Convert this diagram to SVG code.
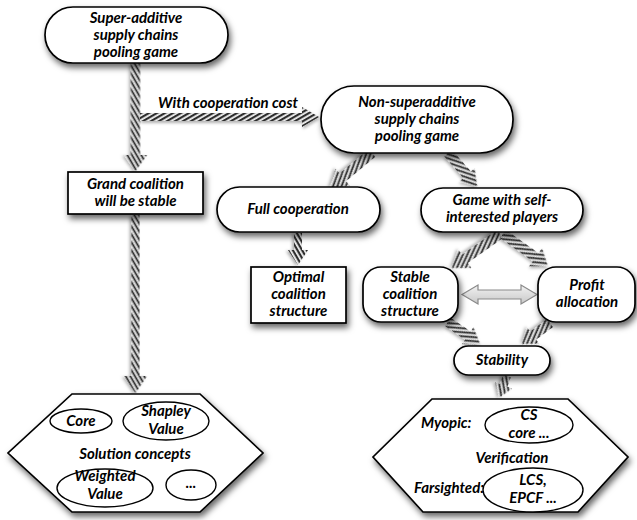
<svg xmlns="http://www.w3.org/2000/svg" width="637" height="520" viewBox="0 0 637 520">
<defs>
<style>
.n{fill:#fff;stroke:#000;stroke-width:1.7;filter:url(#sh)}
.e{fill:#fff;stroke:#000;stroke-width:1.4}
.t{font-family:Lato,"Open Sans",sans-serif;font-weight:bold;font-style:italic;font-size:15px;fill:#000;text-anchor:middle}
.tl{text-anchor:start}
.ar{fill:url(#hatch);filter:url(#ash)}
</style>
<filter id="sh" x="-20%" y="-20%" width="150%" height="160%">
<feDropShadow dx="2" dy="4" stdDeviation="3" flood-color="#000" flood-opacity="0.6"/>
</filter>
<filter id="ash" x="-30%" y="-60%" width="160%" height="220%">
<feDropShadow dx="1" dy="2" stdDeviation="1.5" flood-color="#000" flood-opacity="0.3"/>
</filter>
<pattern id="hatch" width="4" height="4" patternUnits="userSpaceOnUse" patternTransform="rotate(60)">
<rect width="4" height="4" fill="#f4f4f4"/>
<rect width="2.2" height="4" fill="#2e2e2e"/>
</pattern>
<linearGradient id="dbl" x1="0" y1="0" x2="0" y2="1">
<stop offset="0" stop-color="#f2f2f2"/>
<stop offset="1" stop-color="#c8c8c8"/>
</linearGradient>
</defs>
<rect width="637" height="520" fill="#fff"/>

<g id="connectors">
<polygon class="ar" transform="translate(135.5,63) rotate(90)" points="0,-4.5 92,-4.5 92,-11.5 108,0 92,11.5 92,4.5 0,4.5"/>
<polygon class="ar" transform="translate(140,117) rotate(0)" points="0,-4 162,-4 162,-10 179,0 162,10 162,4 0,4"/>
<text class="t" x="228" y="108">With cooperation cost</text>
<polygon class="ar" transform="translate(135.5,215) rotate(90)" points="0,-4 161,-4 161,-11.5 178,0 161,11.5 161,4 0,4"/>
<polygon class="ar" transform="translate(372,153) rotate(140.2)" points="0,-5 38,-5 38,-11 55,0 38,11 38,5 0,5"/>
<polygon class="ar" transform="translate(448,153) rotate(48.7)" points="0,-5 29,-5 29,-10 44,0 29,10 29,5 0,5"/>
<polygon class="ar" transform="translate(298,233) rotate(90)" points="0,-4 17,-4 17,-10 32,0 17,10 17,4 0,4"/>
<polygon class="ar" transform="translate(500,234) rotate(144.7)" points="0,-5 43,-5 43,-11 59,0 43,11 43,5 0,5"/>
<polygon class="ar" transform="translate(503,234) rotate(35.4)" points="0,-5 40,-5 40,-11 55,0 40,11 40,5 0,5"/>
<polygon fill="url(#dbl)" stroke="#8a8a8a" stroke-width="1.2" points="462,294.5 478,285 478,290 521,290 521,285 537,294.5 521,304 521,299 478,299 478,304"/>
<polygon class="ar" transform="translate(448,322) rotate(34.5)" points="0,-5 24,-5 24,-10 39,0 24,10 24,5 0,5"/>
<polygon class="ar" transform="translate(550,323) rotate(143.1)" points="0,-5 21,-5 21,-10 35,0 21,10 21,5 0,5"/>
<polygon class="ar" transform="translate(507,376) rotate(110)" points="0,-4 10,-4 10,-9 23,0 10,9 10,4 0,4"/>
</g>

<g id="super-additive">
<rect class="n" x="45" y="7" width="183" height="56" rx="28"/>
<text class="t" x="136" y="23">Super-additive</text>
<text class="t" x="136" y="40">supply chains</text>
<text class="t" x="136" y="57">pooling  game</text>
</g>

<g id="grand-coalition">
<rect class="n" x="68" y="172" width="135" height="42"/>
<text class="t" x="135.5" y="189">Grand coalition</text>
<text class="t" x="135.5" y="206">will be stable</text>
</g>

<g id="non-superadditive">
<rect class="n" x="321" y="86" width="192" height="67" rx="33"/>
<text class="t" x="417" y="107">Non-superadditive</text>
<text class="t" x="417" y="124">supply chains</text>
<text class="t" x="417" y="141">pooling game</text>
</g>

<g id="full-cooperation">
<rect class="n" x="217" y="187" width="163" height="45" rx="22.5"/>
<text class="t" x="298" y="214">Full cooperation</text>
</g>

<g id="self-interested">
<rect class="n" x="421" y="188" width="162" height="44" rx="22"/>
<text class="t" x="502" y="205">Game with self-</text>
<text class="t" x="502" y="222">interested players</text>
</g>

<g id="optimal">
<rect class="n" x="251" y="267" width="95" height="56"/>
<text class="t" x="298.5" y="282">Optimal</text>
<text class="t" x="298.5" y="299">coalition</text>
<text class="t" x="298.5" y="316">structure</text>
</g>

<g id="stable-coalition">
<rect class="n" x="363" y="267" width="95" height="55" rx="18"/>
<text class="t" x="410" y="282">Stable</text>
<text class="t" x="410" y="299">coalition</text>
<text class="t" x="410" y="316">structure</text>
</g>

<g id="profit-allocation">
<rect class="n" x="538" y="267" width="97" height="55" rx="18"/>
<text class="t" x="587" y="290">Profit</text>
<text class="t" x="587" y="307">allocation</text>
</g>

<g id="stability">
<rect class="n" x="454" y="346" width="96" height="29" rx="14.5"/>
<text class="t" x="502" y="365">Stability</text>
</g>

<g id="solution-concepts">
<polygon class="n" points="72,394 200,394 263,453 200,512 72,512 8,453"/>
<ellipse class="e" cx="81" cy="421" rx="31" ry="12"/>
<text class="t" x="81" y="426">Core</text>
<ellipse class="e" cx="166" cy="421" rx="43" ry="19"/>
<text class="t" x="166" y="416">Shapley</text>
<text class="t" x="166" y="434">Value</text>
<text class="t" x="135" y="459">Solution concepts</text>
<ellipse class="e" cx="105" cy="488" rx="48" ry="19"/>
<text class="t" x="105" y="481">Weighted</text>
<text class="t" x="105" y="499">Value</text>
<ellipse class="e" cx="191" cy="485" rx="25" ry="15"/>
<text class="t" x="191" y="488">...</text>
</g>

<g id="verification">
<polygon class="n" points="432,399 568,399 628,457 578,512 423,512 373,457"/>
<text class="t tl" x="421" y="428">Myopic:</text>
<ellipse class="e" cx="529" cy="425" rx="44" ry="18"/>
<text class="t" x="529" y="420">CS</text>
<text class="t" x="529" y="438">core ...</text>
<text class="t" x="512" y="463">Verification</text>
<text class="t tl" x="414" y="493">Farsighted:</text>
<ellipse class="e" cx="533" cy="490" rx="50" ry="22"/>
<text class="t" x="533" y="485">LCS,</text>
<text class="t" x="533" y="503">EPCF ...</text>
</g>
</svg>
